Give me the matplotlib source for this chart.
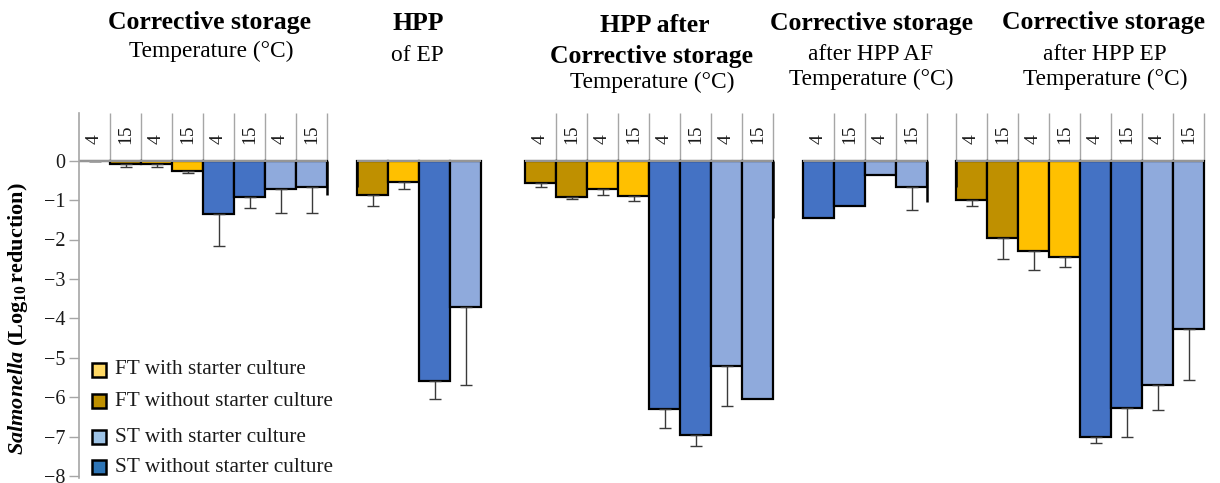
import numpy as np
import matplotlib
matplotlib.use("Agg")
import matplotlib.pyplot as plt
from matplotlib.patches import Rectangle

plt.rcParams['font.family'] = ['Liberation Serif', 'DejaVu Serif']
plt.rcParams['mathtext.fontset'] = 'custom'
plt.rcParams['mathtext.rm'] = 'Liberation Serif'
plt.rcParams['mathtext.it'] = 'Liberation Serif:italic'
plt.rcParams['mathtext.bf'] = 'Liberation Serif:bold'
plt.rcParams['mathtext.bfit'] = 'Liberation Serif:bold:italic'

# ---------------- data ----------------
temps8 = ["4", "15", "4", "15", "4", "15", "4", "15"]
temps4 = ["4", "15", "4", "15"]

# series keys: G = FT without starter, Y = FT with starter, D = ST without, L = ST with
p1_groups = ["G", "G", "Y", "Y", "D", "D", "L", "L"]
p1_values = [-0.01, -0.08, -0.08, -0.27, -1.36, -0.91, -0.73, -0.68]
p1_err = [0.01, 0.09, 0.08, 0.05, 0.80, 0.30, 0.61, 0.66]

p2_groups = ["G", "Y", "D", "L"]
p2_values = [-0.87, -0.53, -5.59, -3.72]
p2_err = [0.28, 0.18, 0.47, 1.98]

p3_groups = ["G", "G", "Y", "Y", "D", "D", "L", "L"]
p3_values = [-0.57, -0.91, -0.73, -0.89, -6.31, -6.96, -5.20, -6.05]
p3_err = [0.11, 0.06, 0.14, 0.13, 0.47, 0.27, 1.02, 0.0]

p4_groups = ["D", "D", "L", "L"]
p4_values = [-1.45, -1.15, -0.37, -0.66]
p4_err = [0.0, 0.0, 0.0, 0.59]

p5_groups = ["G", "G", "Y", "Y", "D", "D", "L", "L"]
p5_values = [-1.00, -1.97, -2.29, -2.44, -7.02, -6.28, -5.69, -4.28]
p5_err = [0.15, 0.53, 0.48, 0.25, 0.15, 0.72, 0.64, 1.29]

# partial bars cut at panel edges in the original figure
edge_values = [-0.87, -0.67, -1.45, -1.04, -0.66]

legend_labels = ["FT with starter culture", "FT without starter culture",
                 "ST with starter culture", "ST without starter culture"]

yticks = [0, -1, -2, -3, -4, -5, -6, -7, -8]

# ---------------- styles ----------------
bar_colors = {"G": "#BF9000", "Y": "#FFC000", "D": "#4472C4", "L": "#8FAADC"}
legend_colors = ["#FFD966", "#BF9000", "#9DC3E6", "#2E75B6"]
grey = "#A6A6A6"

W, H = 1220, 483
fig = plt.figure(figsize=(W / 100, H / 100), dpi=100)

unit = 31.0           # px per bar slot
x0_px = 79
y0_px, ppu = 160.7, 39.4
ytop = (y0_px - 113) / ppu
ybot = -8.05
bottom_px = y0_px - ybot * ppu
ax = fig.add_axes([x0_px / W, (H - bottom_px) / H, (W - x0_px) / W, (bottom_px - 113) / H])
ax.set_xlim(0, (W - x0_px) / unit)
ax.set_ylim(ybot, ytop)

panels = [
    (0.0, p1_groups, p1_values, p1_err, temps8, False),
    ((357 - x0_px) / unit, p2_groups, p2_values, p2_err, None, False),
    ((525 - x0_px) / unit, p3_groups, p3_values, p3_err, temps8, False),
    ((803 - x0_px) / unit, p4_groups, p4_values, p4_err, temps4, False),
    ((956 - x0_px) / unit, p5_groups, p5_values, p5_err, temps8, True),
]

for start, groups, vals, errs, temps, left_line in panels:
    n = len(vals)
    xs = start + np.arange(n) + 0.5
    ax.bar(xs, vals, width=1.0, color=[bar_colors[g] for g in groups],
           edgecolor="black", linewidth=1.6, zorder=2)
    for x, v, e in zip(xs, vals, errs):
        if e > 0:
            ax.errorbar(x, v, yerr=[[e], [0]], fmt="none", ecolor="#3a3a3a",
                        elinewidth=1.0, capsize=4, capthick=1.0, zorder=3)
    ax.hlines(0, start, start + n, color=grey, linewidth=1.3, zorder=4)
    if temps is not None:
        bounds = range(0 if left_line else 1, n + 1)
        for b in bounds:
            ax.vlines(start + b, 0, ytop, color=grey, linewidth=1.0, zorder=1)
        for x, t in zip(xs, temps):
            ax.text(x, 0.42, t, rotation=90, ha="center", va="bottom",
                    fontsize=14, color="#1a1a1a")

edge_x = [8.0, (357 - x0_px) / unit, (525 - x0_px) / unit + 8,
          (803 - x0_px) / unit + 4, (956 - x0_px) / unit]
for x, v in zip(edge_x, edge_values):
    ax.vlines(x, v, 0, color="black", linewidth=1.8, zorder=2)

for s in ["top", "right", "bottom"]:
    ax.spines[s].set_visible(False)
ax.spines["left"].set_color(grey)
ax.spines["left"].set_linewidth(1.2)
ax.set_xticks([])
ax.set_yticks(yticks)
ax.set_yticklabels([("\u2212" + str(-t)) if t < 0 else str(t) for t in yticks])
ax.tick_params(axis="y", direction="out", length=7, width=1.0, color=grey,
               labelsize=14.5, pad=3, labelcolor="#1a1a1a")

fig.text(18 / W, 1 - 319 / H,
         r"$\mathbfit{Salmonella}\ \mathbf{(Log_{10}\,reduction)}$",
         rotation=90, ha="center", va="center", fontsize=16)

# titles (figure pixel positions)
BOLD, REG = 18.5, 16.8


def ftext(x, y, s, bold=False):
    fig.text(x / W, 1 - y / H, s, ha="center", va="baseline",
             fontsize=BOLD if bold else REG,
             fontweight="bold" if bold else "normal", color="black")


ftext(209, 29, "Corrective storage", True)
ftext(211, 57, "Temperature (°C)")
ftext(418, 30, "HPP", True)
ftext(417, 61, "of EP")
ftext(655, 32, "HPP after", True)
ftext(652, 63, "Corrective storage", True)
ftext(652, 88, "Temperature (°C)")
ftext(872, 30, "Corrective storage", True)
ftext(871, 60, "after HPP AF")
ftext(871, 85, "Temperature (°C)")
ftext(1103, 29, "Corrective storage", True)
ftext(1105, 60, "after HPP EP")
ftext(1105, 85, "Temperature (°C)")

# legend
leg_y = [370, 401, 437, 467]
for yc, lab, col in zip(leg_y, legend_labels, legend_colors):
    fig.patches.append(Rectangle((92 / W, 1 - (yc + 7) / H), 14 / W, 14 / H,
                                 transform=fig.transFigure, facecolor=col,
                                 edgecolor="black", linewidth=1.8, zorder=5))
    fig.text(115 / W, 1 - yc / H, lab, ha="left", va="center", fontsize=15.3,
             color="#1a1a1a")

fig.savefig("out.png", dpi=100)
